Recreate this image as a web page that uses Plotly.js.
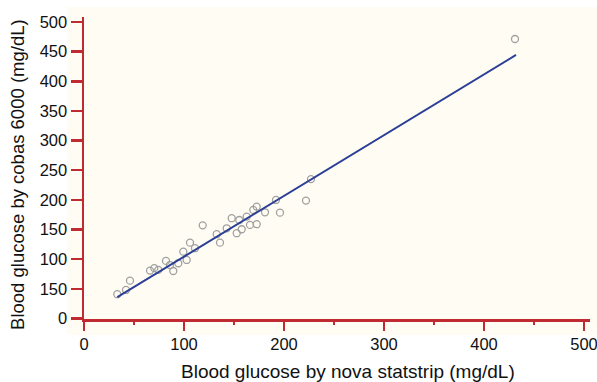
<!DOCTYPE html>
<html>
<head>
<meta charset="utf-8">
<script src="https://cdn.plot.ly/plotly-3.0.1.min.js"></script>
<style>html,body{margin:0;padding:0;background:#fff;}#chart{width:597px;height:382px;}</style>
</head>
<body>
<div id="chart"></div>
<script>
// Scatter data: nova statstrip (x) vs cobas 6000 (y), mg/dL
var novaX = [33.3, 42, 46, 66, 70.3, 74.3, 82, 86, 89.3, 94.3, 99.3, 102.7, 106, 111, 118.7,
             132.7, 136, 142.7, 147.7, 152.7, 155.3, 157.7, 162.7, 166, 169.3, 172.7, 172.7,
             181, 192, 196, 222, 227, 431];
var cobasY = [40.8, 48, 63.7, 80.6, 84.7, 81.8, 97, 90, 80, 93, 112.6, 98.6, 127.8, 118.4, 157,
              142, 127.8, 152, 169, 143.7, 166, 150.4, 171.7, 157.7, 183, 188.5, 158.9,
              179, 199.8, 178.4, 198.7, 235, 471.3];
// Regression line end points
var fitX = [33.3, 432];
var fitY = [35.8, 444.4];
// Tick labels
var xTickVals = [0, 100, 200, 300, 400, 500];
var xTickText = ['0', '100', '200', '300', '400', '500'];
var yTickVals = [0, 50, 100, 150, 200, 250, 300, 350, 400, 450, 500];
var yTickText = ['0', '150', '100', '150', '200', '250', '300', '350', '400', '450', '500'];
var xTitle = 'Blood glucose by nova statstrip (mg/dL)';
var yTitle = 'Blood glucose by cobas 6000 (mg/dL)';

var axisRed = '#bf2b30';
var cream = '#fffdf3';
var fontFam = 'Liberation Sans, Arial, sans-serif';

var traces = [
  {x: novaX, y: cobasY, type: 'scatter', mode: 'markers',
   marker: {symbol: 'circle-open', size: 7, color: '#a0a0a0', line: {width: 1.3, color: '#a0a0a0'}},
   hoverinfo: 'skip', showlegend: false, cliponaxis: false},
  {x: fitX, y: fitY, type: 'scatter', mode: 'lines',
   line: {color: '#2c3f97', width: 2}, hoverinfo: 'skip', showlegend: false}
];

var layout = {
  width: 597, height: 382,
  margin: {l: 84, r: 7, t: 17, b: 62.9, pad: 0},
  paper_bgcolor: '#ffffff',
  plot_bgcolor: cream,
  font: {family: fontFam, color: '#111', size: 17},
  xaxis: {
    range: [0, 506], showgrid: false, zeroline: false,
    showline: true, linecolor: axisRed, linewidth: 2.5,
    ticks: 'outside', ticklen: 9, tickwidth: 2.5, tickcolor: axisRed,
    tickvals: xTickVals, ticktext: xTickText, ticklabeloverflow: 'allow',
    tickfont: {size: 16.5, family: fontFam, color: '#111'},
    minor: {dtick: 50, tick0: 0, ticks: 'outside', ticklen: 3, tickwidth: 1.5, tickcolor: axisRed, showgrid: false}
  },
  yaxis: {
    range: [-1, 508.4], showgrid: false, zeroline: false,
    showline: true, linecolor: axisRed, linewidth: 2.5,
    ticks: 'outside', ticklen: 11, tickwidth: 2.5, tickcolor: axisRed,
    tickvals: yTickVals, ticktext: yTickText,
    tickfont: {size: 16.5, family: fontFam, color: '#111'}
  },
  annotations: [
    {text: xTitle, xref: 'paper', yref: 'paper', x: 0.5227, y: -0.175, xanchor: 'center', yanchor: 'middle',
     showarrow: false, font: {size: 19, family: fontFam, color: '#111'}},
    {text: yTitle, xref: 'paper', yref: 'paper', x: -0.1304, y: 0.477, xanchor: 'center', yanchor: 'middle',
     textangle: -90, showarrow: false, font: {size: 18.5, family: fontFam, color: '#111'}}
  ],
  shapes: [
    {type: 'rect', xref: 'paper', yref: 'paper', x0: -0.0336, x1: 1.0138, y0: -0.0526, y1: 1.033,
     fillcolor: cream, line: {width: 0}, layer: 'below'}
  ]
};

Plotly.newPlot('chart', traces, layout, {displayModeBar: false, staticPlot: true});
</script>
</body>
</html>
